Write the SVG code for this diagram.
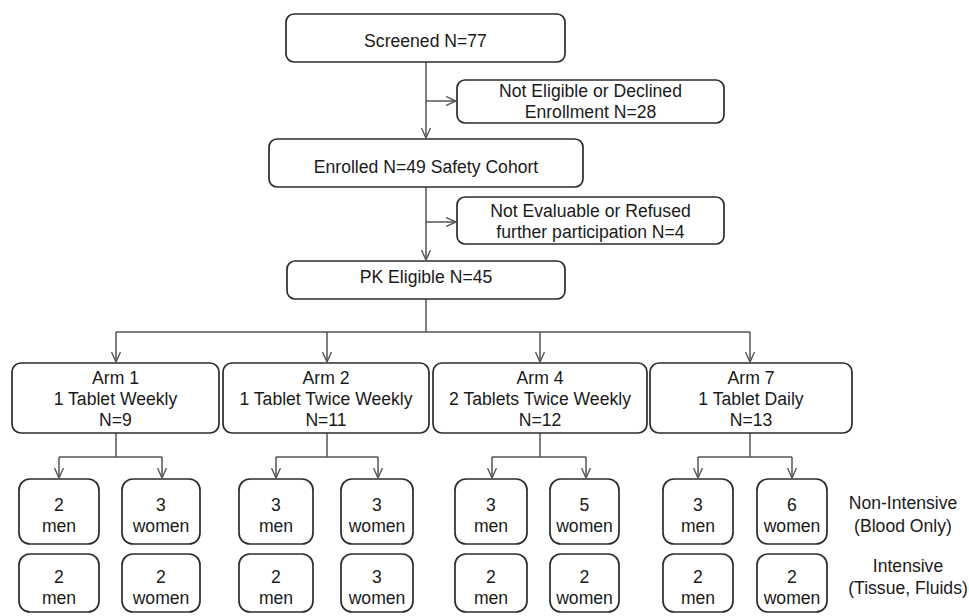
<svg xmlns="http://www.w3.org/2000/svg" width="969" height="616" viewBox="0 0 969 616">
<style>
.box{fill:#fff;stroke:#2b2b2b;stroke-width:1.7}
.t{font-family:"Liberation Sans",Arial,sans-serif;font-size:17.6px;fill:#1a1a1a;text-anchor:middle}
.c{fill:none;stroke:#555;stroke-width:1.5}
.a{marker-end:url(#arr)}
</style>
<defs>
<marker id="arr" viewBox="0 0 10 10" refX="10" refY="5" markerWidth="10" markerHeight="10" markerUnits="userSpaceOnUse" orient="auto">
<path d="M0,0.5 L10,5 L0,9.5" fill="none" stroke="#555" stroke-width="1.4"/>
</marker>
</defs>
<rect width="969" height="616" fill="#fff"/>
<g id="connectors">
<path class="c a" d="M426,62 V138"/>
<path class="c a" d="M426,101 H456"/>
<path class="c a" d="M426,187 V260"/>
<path class="c a" d="M426,222 H456"/>
<path class="c" d="M426,299 V332 M116,332 H750"/>
<path class="c a" d="M116,332 V362"/>
<path class="c a" d="M327,332 V362"/>
<path class="c a" d="M540,332 V362"/>
<path class="c a" d="M750,332 V362"/>
<path class="c" d="M116,433 V457 M59,457 H162"/>
<path class="c a" d="M59,457 V478"/>
<path class="c a" d="M162,457 V478"/>
<path class="c" d="M327,433 V457 M276,457 H378"/>
<path class="c a" d="M276,457 V478"/>
<path class="c a" d="M378,457 V478"/>
<path class="c" d="M540,433 V457 M492,457 H586"/>
<path class="c a" d="M492,457 V478"/>
<path class="c a" d="M586,457 V478"/>
<path class="c" d="M750,433 V457 M698,457 H792"/>
<path class="c a" d="M698,457 V478"/>
<path class="c a" d="M792,457 V478"/>
</g>
<g id="screened"><rect class="box" x="286" y="14" width="279" height="48" rx="8"/><text class="t" x="425.5" y="47">Screened N=77</text></g>
<g id="not-eligible"><rect class="box" x="457" y="80" width="267" height="43" rx="8"/><text class="t" x="590.5" y="97">Not Eligible or Declined</text><text class="t" x="590.5" y="118">Enrollment N=28</text></g>
<g id="enrolled"><rect class="box" x="269" y="139" width="314" height="48" rx="8"/><text class="t" x="426" y="173">Enrolled N=49 Safety Cohort</text></g>
<g id="not-evaluable"><rect class="box" x="457" y="197" width="267" height="47" rx="8"/><text class="t" x="590.5" y="217">Not Evaluable or Refused</text><text class="t" x="590.5" y="238">further participation N=4</text></g>
<g id="pk-eligible"><rect class="box" x="287" y="261" width="278" height="38" rx="8"/><text class="t" x="426" y="283">PK Eligible N=45</text></g>
<g id="arm1"><rect class="box" x="12" y="363" width="207" height="70" rx="9"/><text class="t" x="115.5" y="384">Arm 1</text><text class="t" x="115.5" y="405">1 Tablet Weekly</text><text class="t" x="115.5" y="426">N=9</text></g>
<g id="arm2"><rect class="box" x="223" y="363" width="206" height="70" rx="9"/><text class="t" x="326" y="384">Arm 2</text><text class="t" x="326" y="405">1 Tablet Twice Weekly</text><text class="t" x="326" y="426">N=11</text></g>
<g id="arm4"><rect class="box" x="433" y="363" width="214" height="70" rx="9"/><text class="t" x="540" y="384">Arm 4</text><text class="t" x="540" y="405">2 Tablets Twice Weekly</text><text class="t" x="540" y="426">N=12</text></g>
<g id="arm7"><rect class="box" x="650" y="363" width="202" height="70" rx="9"/><text class="t" x="751" y="384">Arm 7</text><text class="t" x="751" y="405">1 Tablet Daily</text><text class="t" x="751" y="426">N=13</text></g>
<g id="a1-ni-men"><rect class="box" x="19" y="479" width="80" height="65" rx="11"/><text class="t" x="59" y="511">2</text><text class="t" x="59" y="532">men</text></g>
<g id="a1-ni-women"><rect class="box" x="122" y="479" width="78" height="65" rx="11"/><text class="t" x="161" y="511">3</text><text class="t" x="161" y="532">women</text></g>
<g id="a2-ni-men"><rect class="box" x="239" y="479" width="74" height="65" rx="11"/><text class="t" x="276" y="511">3</text><text class="t" x="276" y="532">men</text></g>
<g id="a2-ni-women"><rect class="box" x="341" y="479" width="72" height="65" rx="11"/><text class="t" x="377" y="511">3</text><text class="t" x="377" y="532">women</text></g>
<g id="a4-ni-men"><rect class="box" x="455" y="479" width="72" height="65" rx="11"/><text class="t" x="491" y="511">3</text><text class="t" x="491" y="532">men</text></g>
<g id="a4-ni-women"><rect class="box" x="550" y="479" width="69" height="65" rx="11"/><text class="t" x="584.5" y="511">5</text><text class="t" x="584.5" y="532">women</text></g>
<g id="a7-ni-men"><rect class="box" x="663" y="479" width="70" height="65" rx="11"/><text class="t" x="698" y="511">3</text><text class="t" x="698" y="532">men</text></g>
<g id="a7-ni-women"><rect class="box" x="757" y="479" width="70" height="65" rx="11"/><text class="t" x="792" y="511">6</text><text class="t" x="792" y="532">women</text></g>
<g id="a1-i-men"><rect class="box" x="19" y="554" width="80" height="58" rx="11"/><text class="t" x="59" y="583">2</text><text class="t" x="59" y="604">men</text></g>
<g id="a1-i-women"><rect class="box" x="122" y="554" width="78" height="58" rx="11"/><text class="t" x="161" y="583">2</text><text class="t" x="161" y="604">women</text></g>
<g id="a2-i-men"><rect class="box" x="239" y="554" width="74" height="58" rx="11"/><text class="t" x="276" y="583">2</text><text class="t" x="276" y="604">men</text></g>
<g id="a2-i-women"><rect class="box" x="341" y="554" width="72" height="58" rx="11"/><text class="t" x="377" y="583">3</text><text class="t" x="377" y="604">women</text></g>
<g id="a4-i-men"><rect class="box" x="455" y="554" width="72" height="58" rx="11"/><text class="t" x="491" y="583">2</text><text class="t" x="491" y="604">men</text></g>
<g id="a4-i-women"><rect class="box" x="550" y="554" width="69" height="58" rx="11"/><text class="t" x="584.5" y="583">2</text><text class="t" x="584.5" y="604">women</text></g>
<g id="a7-i-men"><rect class="box" x="663" y="554" width="70" height="58" rx="11"/><text class="t" x="698" y="583">2</text><text class="t" x="698" y="604">men</text></g>
<g id="a7-i-women"><rect class="box" x="757" y="554" width="70" height="58" rx="11"/><text class="t" x="792" y="583">2</text><text class="t" x="792" y="604">women</text></g>
<g id="label-nonintensive"><text class="t" x="903" y="509">Non-Intensive</text><text class="t" x="903" y="532">(Blood Only)</text></g>
<g id="label-intensive"><text class="t" x="908" y="572">Intensive</text><text class="t" x="908" y="594">(Tissue, Fluids)</text></g>
</svg>
